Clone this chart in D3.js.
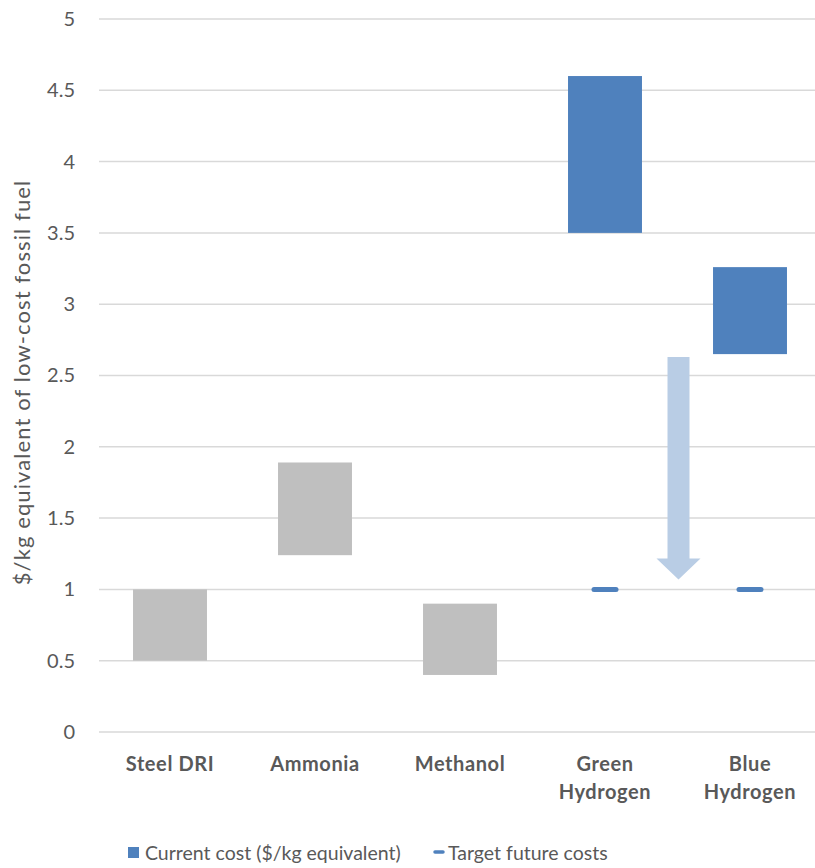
<!DOCTYPE html>
<html>
<head>
<meta charset="utf-8">
<script src="https://cdn.jsdelivr.net/npm/d3@7/dist/d3.min.js"></script>
<style>
  html, body { margin: 0; padding: 0; background: #fff; }
  svg { display: block; font-family: Lato, "Open Sans", sans-serif; }
</style>
</head>
<body>
<svg id="chart" width="815" height="868"></svg>
<script>
// Cost ranges ($/kg equivalent of low-cost fossil fuel)
const categories = [["Steel DRI"], ["Ammonia"], ["Methanol"], ["Green", "Hydrogen"], ["Blue", "Hydrogen"]];
const catKeys = categories.map(c => c.join(" "));
const rangeLow  = [0.5, 1.24, 0.4, 3.5, 2.65];
const rangeHigh = [1.0, 1.89, 0.9, 4.6, 3.26];
const barColors = ["#bfbfbf", "#bfbfbf", "#bfbfbf", "#4f81bd", "#4f81bd"];
// Target future costs (hydrogen only)
const targetKeys = ["Green Hydrogen", "Blue Hydrogen"];
const targetValues = [1.0, 1.0];
// Cost-reduction arrow, drawn between the two hydrogen columns
const arrowFrom = 2.63, arrowTo = 1.07;
const yTicks = [0, 0.5, 1, 1.5, 2, 2.5, 3, 3.5, 4, 4.5, 5];
const yTitle = "$/kg equivalent of low-cost fossil fuel";
const legendItems = ["Current cost ($/kg equivalent)", "Target future costs"];

const svg = d3.select("#chart");
const plotLeft = 97.5, plotRight = 822.5, plotTop = 19, plotBottom = 732;
const textColor = "#595959";

const x = d3.scaleBand().domain(catKeys).range([plotLeft, plotRight]).paddingInner(0.49).paddingOuter(0.245);
const y = d3.scaleLinear().domain([0, 5]).range([plotBottom, plotTop]);

// Horizontal gridlines
svg.append("g").selectAll("line").data(yTicks).join("line")
  .attr("x1", 99).attr("x2", 815)
  .attr("y1", d => y(d)).attr("y2", d => y(d))
  .attr("stroke", "#d9d9d9").attr("stroke-width", 1.5);

// Y axis tick labels
const yAxis = svg.append("g").attr("transform", "translate(75,0)")
  .call(d3.axisLeft(y).tickValues(yTicks).tickSize(0).tickPadding(0).tickFormat(d3.format("")));
yAxis.select(".domain").remove();
yAxis.selectAll("text").attr("font-size", 20).attr("fill", textColor)
  .attr("font-family", "Lato, 'Open Sans', sans-serif");

// Y axis title
svg.append("text")
  .attr("transform", `translate(30,${(plotTop + plotBottom) / 2 + 7}) rotate(-90)`)
  .attr("text-anchor", "middle").attr("font-size", 22).attr("letter-spacing", 1.1)
  .attr("fill", textColor)
  .text(yTitle);

// Floating range bars
svg.append("g").selectAll("rect").data(catKeys).join("rect")
  .attr("x", d => x(d))
  .attr("width", x.bandwidth())
  .attr("y", (d, i) => y(rangeHigh[i]))
  .attr("height", (d, i) => y(rangeLow[i]) - y(rangeHigh[i]))
  .attr("fill", (d, i) => barColors[i]);

// Target markers
svg.append("g").selectAll("line").data(targetKeys).join("line")
  .attr("x1", d => x(d) + x.bandwidth() / 2 - 11)
  .attr("x2", d => x(d) + x.bandwidth() / 2 + 11)
  .attr("y1", (d, i) => y(targetValues[i]))
  .attr("y2", (d, i) => y(targetValues[i]))
  .attr("stroke", "#4f81bd").attr("stroke-width", 5).attr("stroke-linecap", "round");

// Arrow
const ax = (x("Green Hydrogen") + x("Blue Hydrogen")) / 2 + x.bandwidth() / 2 + 1;
const shaftHalf = 11, headHalf = 22, headLen = 21;
const yA = y(arrowFrom), yB = y(arrowTo);
svg.append("path")
  .attr("d", `M${ax - shaftHalf},${yA} L${ax + shaftHalf},${yA} L${ax + shaftHalf},${yB - headLen}
    L${ax + headHalf},${yB - headLen} L${ax},${yB} L${ax - headHalf},${yB - headLen}
    L${ax - shaftHalf},${yB - headLen} Z`)
  .attr("fill", "#b9cde5");

// Category labels
const xl = svg.append("g");
categories.forEach((lines, i) => {
  const cx = x(catKeys[i]) + x.bandwidth() / 2;
  const t = xl.append("text")
    .attr("x", cx).attr("y", 771)
    .attr("text-anchor", "middle").attr("font-size", 20).attr("font-weight", "bold")
    .attr("letter-spacing", 0.6).attr("fill", textColor);
  lines.forEach((ln, j) => t.append("tspan")
    .attr("x", cx).attr("dy", j === 0 ? 0 : 28).text(ln));
});

// Legend
const lg = svg.append("g");
lg.append("rect").attr("x", 128).attr("y", 847).attr("width", 11).attr("height", 11).attr("fill", "#4f81bd");
lg.append("text").attr("x", 145).attr("y", 860).attr("font-size", 19.5).attr("fill", textColor).text(legendItems[0]);
lg.append("line").attr("x1", 435).attr("x2", 443).attr("y1", 852).attr("y2", 852)
  .attr("stroke", "#4f81bd").attr("stroke-width", 3.5).attr("stroke-linecap", "round");
lg.append("text").attr("x", 448).attr("y", 860).attr("font-size", 19.5).attr("fill", textColor).text(legendItems[1]);
</script>
</body>
</html>
